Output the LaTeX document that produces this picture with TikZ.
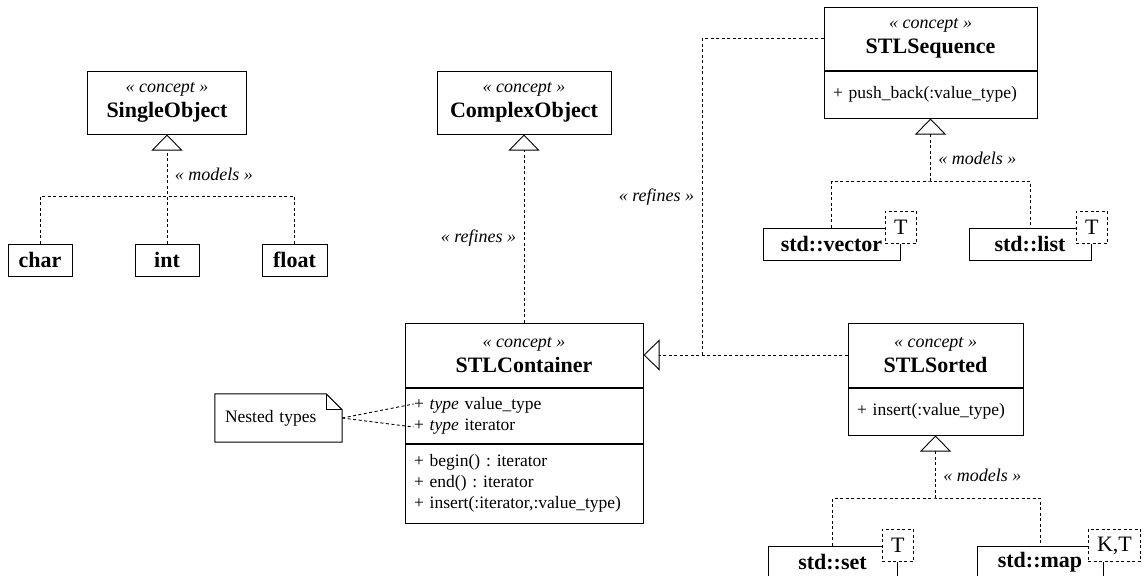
\documentclass[tikz,border=0pt]{standalone}
\usepackage{fontspec}
\setmainfont{Liberation Serif}
\usetikzlibrary{arrows.meta, positioning}
\frenchspacing

\newcommand{\stereo}[1]{{\itshape «~#1~»}}
\newcommand{\cname}[1]{{\bfseries\fontsize{22}{25}\selectfont #1}}

\tikzset{
  umlline/.style={line width=0.9pt, dash pattern=on 3pt off 2.5pt},
  realize/.style={umlline, -{Triangle[open, length=16pt, width=31pt]}},
}

\begin{document}
\begin{tikzpicture}[x=1pt, y=-1pt,
  head/.style={draw, line width=1pt, fill=white, align=center, inner sep=0pt,
    font=\fontsize{18}{25}\selectfont},
  body/.style={draw, line width=1pt, fill=white, align=left, inner xsep=9pt,
    inner ysep=0pt, font=\fontsize{17.5}{21}\selectfont},
  model/.style={draw, line width=1pt, fill=white, minimum height=32pt, inner sep=0pt,
    font=\bfseries\fontsize{22}{25}\selectfont},
  tparam/.style={draw, line width=1pt, dash pattern=on 3pt off 2.5pt, fill=white,
    anchor=west, minimum width=31pt, minimum height=32pt, inner xsep=9pt,
    inner ysep=0pt, font=\fontsize{22}{25}\selectfont},
  lbl/.style={font=\itshape\fontsize{18}{22}\selectfont},
  memo/.style={align=left, text width=107pt, inner xsep=10pt, minimum height=48pt,
    font=\fontsize{17.5}{21}\selectfont},
]

\useasboundingbox (0,0) rectangle (1144,576);
\clip (0,0) rectangle (1144,576);
\fill[white] (0,0) rectangle (1144,576);

% concepts
\node[head, minimum width=159pt, minimum height=63pt] (single) at (167,102.5)
  {\stereo{concept}\\\cname{SingleObject}};
\node[head, minimum width=174pt, minimum height=63pt] (complex) at (524,102.5)
  {\stereo{concept}\\\cname{ComplexObject}};

\node[head, minimum width=238pt, minimum height=64pt] (container) at (524,355)
  {\stereo{concept}\\\cname{STLContainer}};
\node[body, below=0pt of container, text width=220pt, minimum height=55pt] (containerattr)
  {+ \textit{type} value\_type\\+ \textit{type} iterator};
\node[body, below=0pt of containerattr, text width=220pt, minimum height=79pt] (containerops)
  {+ begin() : iterator\\+ end() : iterator\\+ insert(:iterator,:value\_type)};

\node[head, minimum width=213pt, minimum height=63pt] (sequence) at (930.5,38.5)
  {\stereo{concept}\\\cname{STLSequence}};
\node[body, below=0pt of sequence, text width=195pt, minimum height=47pt] (sequenceops)
  {+ push\_back(:value\_type)};

\node[head, minimum width=175pt, minimum height=64pt] (sorted) at (935.5,355)
  {\stereo{concept}\\\cname{STLSorted}};
\node[body, below=0pt of sorted, text width=157pt, minimum height=47pt] (sortedops)
  {+ insert(:value\_type)};

% models
\node[model, minimum width=64pt] (char)  at (40,260)    {char};
\node[model, minimum width=64pt] (int)   at (167,260)   {int};
\node[model, minimum width=65pt] (float) at (294.5,260) {float};

\node[model, minimum width=137pt] (vector) at (831.5,244) {std::vector};
\node[tparam] (vectorT) at ([xshift=-16pt]vector.north east) {T};
\node[model, minimum width=122pt] (list) at (1030,244) {std::list};
\node[tparam] (listT) at ([xshift=-16pt]list.north east) {T};

\node[model, minimum width=129pt] (set) at (832.5,562) {std::set};
\node[tparam] (setT) at ([xshift=-16pt]set.north east) {T};
\node[model, minimum width=126pt] (map) at (1040,562) {std::map};
\node[tparam] (mapT) at ([xshift=-16pt]map.north east) {K,T};

% note
\node[memo] (note) at (278.5,418) {Nested types};
\draw[line width=1pt] (note.south west) -- (note.north west)
  -- ([xshift=-16pt]note.north east) -- ([yshift=-16pt]note.north east)
  -- (note.south east) -- cycle;
\draw[line width=1pt] ([xshift=-16pt]note.north east) |- ([yshift=-16pt]note.north east);

\coordinate (valtype) at ([xshift=9pt,yshift=11.5pt]containerattr.west);
\coordinate (itertype) at ([xshift=9pt,yshift=-11.5pt]containerattr.west);
\draw[umlline] (note.east) -- (valtype);
\draw[umlline] (note.east) -- (itertype);

% models relations
\coordinate (singlejoin) at (167,196);
\draw[umlline] (char.north) |- (singlejoin) -| (float.north);
\draw[realize] (int.north) -- node[lbl, right, pos=0.63, xshift=4pt] {\stereo{models}} (single.south);

\coordinate (seqjoin) at (930.5,181);
\draw[umlline] (vector.north) |- (seqjoin) -| (list.north);
\draw[realize] (seqjoin) -- node[lbl, right, pos=0.36, xshift=4pt] {\stereo{models}} (sequenceops.south);

\coordinate (sortjoin) at (935.5,498);
\draw[umlline] (set.north) |- (sortjoin) -| (map.north);
\draw[realize] (sortjoin) -- node[lbl, right, pos=0.36, xshift=4pt] {\stereo{models}} (sortedops.south);

% refinements
\draw[realize] (container.north) -- node[lbl, left, pos=0.45, xshift=-4pt] {\stereo{refines}} (complex.south);

\coordinate (refbend) at (702,355);
\draw[umlline] (sequence.west) -| node[lbl, left, pos=0.75, xshift=-4pt] {\stereo{refines}} (refbend);
\draw[realize] (sorted.west) -- (container.east);

\end{tikzpicture}
\end{document}
